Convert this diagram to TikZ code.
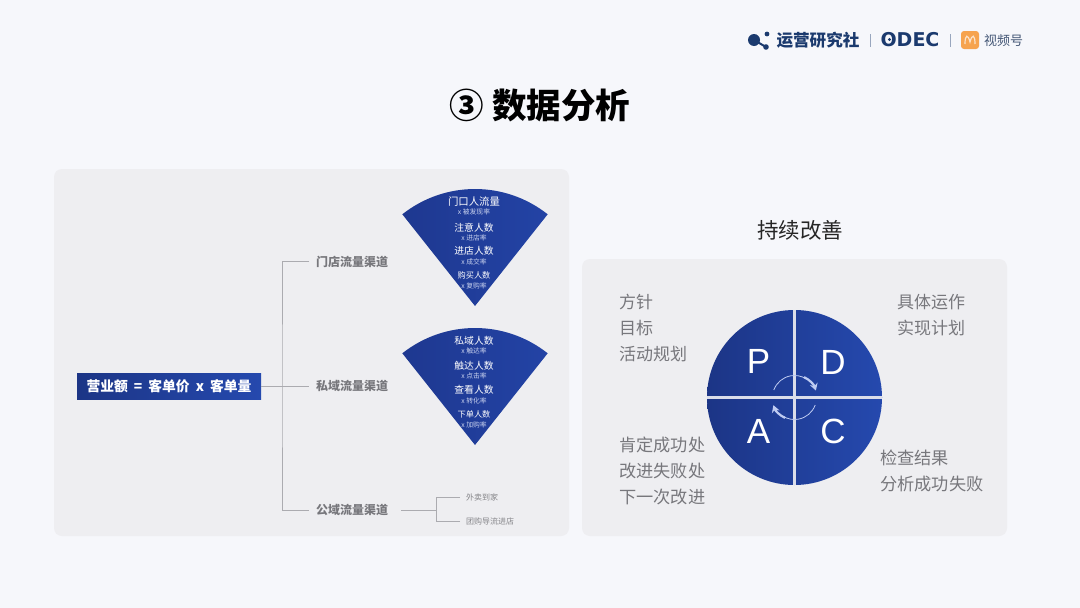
\documentclass[tikz,border=0pt]{standalone}
\usepackage{fontspec}
\setmainfont{Noto Sans CJK SC}
\newfontfamily\latinf{Liberation Sans}
\newfontfamily\widef{DejaVu Sans}
\usetikzlibrary{arrows.meta}
\definecolor{bgc}{HTML}{F6F7FB}
\definecolor{panelc}{HTML}{EEEEF1}
\definecolor{dkb}{HTML}{1C3586}
\definecolor{ltb}{HTML}{2549AE}
\definecolor{secd}{HTML}{1E3890}
\definecolor{secl}{HTML}{2343A5}
\definecolor{linec}{HTML}{ABABB0}
\definecolor{txtg}{HTML}{77777C}
\definecolor{navy}{HTML}{1B3A6E}
\definecolor{subw}{HTML}{C9D2EE}
\definecolor{ringc}{HTML}{BFCCF2}
\definecolor{orgc}{HTML}{F6A34E}
\tikzset{
  panel/.style={fill=panelc,draw=none,rounded corners=8pt},
  sectorfill/.style={left color=secd,right color=secl,draw=none},
  fmain/.style={inner sep=0pt,text=white,font=\fontsize{9.8}{12}\selectfont},
  ftop/.style={inner sep=0pt,text=white,font=\fontsize{10.4}{12}\selectfont},
  flow/.style={inner sep=0pt,text=white,font=\fontsize{8.2}{10}\selectfont},
  fsub/.style={inner sep=0pt,text=subw,font=\fontsize{6.8}{8}\selectfont},
  chan/.style={inner sep=0pt,text=txtg,font=\fontsize{12}{14}\selectfont\bfseries,anchor=west},
  leaf/.style={inner sep=0pt,text=txtg!90,font=\fontsize{8}{10}\selectfont,anchor=west},
  conn/.style={draw=linec,line width=0.9pt},
  pdca/.style={inner sep=0pt,text=txtg,font=\fontsize{17}{26}\selectfont,anchor=north west,align=left},
  letter/.style={inner sep=0pt,text=white,font=\latinf\fontsize{35}{36}\selectfont},
  sep/.style={draw=navy!45,line width=0.9pt}
}
\begin{document}
\begin{tikzpicture}[x=1pt,y=-1pt]
\useasboundingbox (0,0) rectangle (1080,608);
\fill[bgc] (0,0) rectangle (1080,608);
% title
\node[inner sep=0pt,text=black,font=\fontsize{34.5}{38}\selectfont\bfseries] (title) at (540,105) {③ 数据分析};
% logo
\draw[navy,line width=2pt] (754,40) -- (766,47);
\fill[navy] (754,40) circle (6pt);
\fill[navy] (767,34) circle (2.4pt);
\fill[navy] (766,47) circle (2.8pt);
\node[inner sep=0pt,text=navy,font=\fontsize{16.6}{18}\selectfont\bfseries] (brand) at (818,40) {运营研究社};
\draw[sep] (870,34) -- (870,47);
\node[inner sep=0pt,text=navy,font=\widef\fontsize{19}{20}\selectfont\bfseries] (odec) at (910,40) {ODEC};
\fill[navy] (889.5,39.5) circle (1.7pt);
\draw[sep] (950,34) -- (950,47);
\fill[orgc,rounded corners=3pt] (961,31) rectangle (979,49);
\draw[white!70!orgc,line width=1.2pt] (965,44) .. controls (965,34) and (968,34) .. (970,42) .. controls (972,34) and (975,34) .. (975,44);
\node[inner sep=0pt,text=navy!60!gray,font=\fontsize{13}{15}\selectfont] (vid) at (1003.5,40.5) {视频号};
% panels
\fill[panel] (54,169) rectangle (569,536);
\fill[panel] (582,259) rectangle (1007,536);
% left tree
\node[inner sep=0pt,minimum width=184pt,minimum height=26pt,left color=dkb,right color=ltb,text=white,font=\fontsize{13.8}{16}\selectfont\bfseries] (rev) at (169,386) {营业额\hspace{6pt}=\hspace{6pt}客单价\hspace{6pt}x\hspace{6pt}客单量};
\node[chan] (c1) at (316,261.5) {门店流量渠道};
\node[chan] (c2) at (316,386) {私域流量渠道};
\node[chan] (c3) at (316,510) {公域流量渠道};
\node[leaf] (l1) at (466,497.5) {外卖到家};
\node[leaf] (l2) at (466,521.5) {团购导流进店};
\coordinate (j) at (282,386);
\coordinate (k) at (436,510);
\draw[conn] (rev.east) -- ([xshift=-7pt]c2.west);
\draw[conn] ([xshift=-7pt]c1.west) -| (j) |- ([xshift=-7pt]c3.west);
\draw[conn] ([xshift=13pt]c3.east) -- (k);
\draw[conn] ([xshift=-6pt]l1.west) -| (k);
\draw[conn] ([xshift=-6pt]l2.west) -| (k);
% sectors
\begin{scope}[shift={(475,306)},x=1pt,y=1pt]
\path[sectorfill] (0,0) -- (128.4:117pt) arc[start angle=128.4,end angle=51.6,radius=117pt] -- cycle;
\end{scope}
\begin{scope}[shift={(475,445)},x=1pt,y=1pt]
\path[sectorfill] (0,0) -- (128.4:117pt) arc[start angle=128.4,end angle=51.6,radius=117pt] -- cycle;
\end{scope}
\node[ftop] (a1) at (474,201.5) {门口人流量};
\node[fsub] (a1s) at (474,212) {x 被发现率};
\node[fmain] (a2) at (474,227.5) {注意人数};
\node[fsub] (a2s) at (474,237.5) {x 进店率};
\node[fmain] (a3) at (474,250.5) {进店人数};
\node[fsub] (a3s) at (474,261.5) {x 成交率};
\node[flow] (a4) at (474,275.5) {购买人数};
\node[fsub] (a4s) at (474,285.5) {x 复购率};
\node[fmain] (b1) at (474,340.5) {私域人数};
\node[fsub] (b1s) at (474,350.5) {x 触达率};
\node[fmain] (b2) at (474,365.5) {触达人数};
\node[fsub] (b2s) at (474,375.5) {x 点击率};
\node[fmain] (b3) at (474,389.5) {查看人数};
\node[fsub] (b3s) at (474,400.5) {x 转化率};
\node[flow] (b4) at (474,414.5) {下单人数};
\node[fsub] (b4s) at (474,425) {x 加购率};
% right
\node[inner sep=0pt,text=black!85,font=\fontsize{21.5}{24}\selectfont] (cont) at (800,230) {持续改善};
\node[pdca] (t1) at (619,294) {方针\\目标\\活动规划};
\node[pdca] (t2) at (897,294) {具体运作\\实现计划};
\node[pdca,font=\fontsize{17.2}{26}\selectfont] (t3) at (619,437) {肯定成功处\\改进失败处\\下一次改进};
\node[pdca,font=\fontsize{17.2}{26}\selectfont] (t4) at (880,450) {检查结果\\分析成功失败};
% circle
\shade[left color=dkb,right color=ltb] (794.5,397.5) circle (87.5pt);
\draw[draw=panelc!90!ltb,line width=3.6pt] (794.5,310) -- (794.5,485);
\draw[draw=panelc!90!ltb,line width=3.6pt] (707,397.5) -- (882,397.5);
\node[letter] (P) at (758.5,361) {P};
\node[letter] (D) at (833,362) {D};
\node[letter] (A) at (758.5,431) {A};
\node[letter] (C) at (833,431) {C};
\begin{scope}[shift={(794.5,397.5)},x=1pt,y=1pt]
\draw[ringc,line width=0.8pt] (160:22pt) arc[start angle=160,end angle=60,radius=22pt];
\draw[ringc,line width=2.2pt,-{Stealth[length=7pt,width=8pt]}] (65:22.5pt) arc[start angle=65,end angle=18,radius=22.5pt];
\draw[ringc,line width=0.8pt] (-20:22pt) arc[start angle=-20,end angle=-120,radius=22pt];
\draw[ringc,line width=2.2pt,-{Stealth[length=7pt,width=8pt]}] (-115:22.5pt) arc[start angle=-115,end angle=-160,radius=22.5pt];
\end{scope}
\end{tikzpicture}
\end{document}
